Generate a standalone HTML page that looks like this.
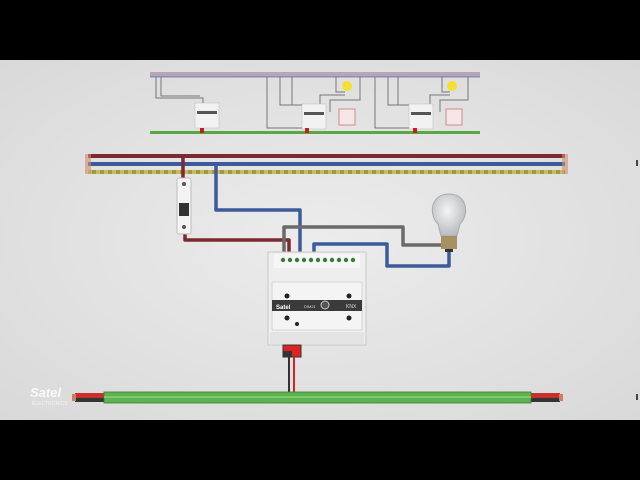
<!DOCTYPE html>
<html><head><style>
html,body{margin:0;padding:0;background:#000;}
svg{display:block}
</style></head><body>
<svg width="640" height="480" viewBox="0 0 640 480" xmlns="http://www.w3.org/2000/svg" font-family="Liberation Sans, sans-serif">
<defs>
<radialGradient id="bg" cx="50%" cy="50%" r="70%">
<stop offset="0" stop-color="#ececec"/><stop offset="1" stop-color="#d9d9d9"/>
</radialGradient>
<radialGradient id="glass" cx="45%" cy="40%" r="60%">
<stop offset="0" stop-color="#f4f4f4"/><stop offset="1" stop-color="#b8bcc0"/>
</radialGradient>
<pattern id="yg" width="8" height="4" patternUnits="userSpaceOnUse">
<rect width="8" height="4" fill="#9a9a48"/><rect width="4" height="4" fill="#c8bc5a"/>
</pattern>
</defs>
<rect x="0" y="0" width="640" height="480" fill="#000"/>
<rect x="0" y="60" width="640" height="360" fill="url(#bg)"/>

<g>
<rect x="150" y="72" width="330" height="4" fill="#b6a6b8"/>
<rect x="150" y="76" width="330" height="1.5" fill="#8a8fb5"/>
<rect x="150" y="131" width="330" height="3" fill="#5aa844"/>
<g stroke="#777" stroke-width="1" fill="none">
<path d="M156 77 V98 H203 V104"/><path d="M161 77 V96 H200"/>
<path d="M267 77 V128 H305"/><path d="M280 77 V105 H310"/><path d="M292 77 V105 H320 V95 H345"/>
<path d="M336 77 V92 H345"/><path d="M360 77 V100 H330 V112"/>
<path d="M375 77 V128 H410"/><path d="M388 77 V105 H415"/><path d="M398 77 V105 H430 V95 H450"/>
<path d="M442 77 V92 H450"/><path d="M468 77 V100 H440 V112"/>
</g>
<rect x="195" y="103" width="24" height="25" fill="#f2f2f2" stroke="#bbb" stroke-width=".5"/>
<rect x="197" y="111" width="20" height="3" fill="#555"/>
<rect x="200" y="128" width="4" height="5" fill="#c02020"/>
<rect x="302" y="104" width="24" height="25" fill="#f2f2f2" stroke="#bbb" stroke-width=".5"/>
<rect x="304" y="112" width="20" height="3" fill="#555"/>
<rect x="305" y="128" width="4" height="5" fill="#c02020"/>
<rect x="409" y="104" width="24" height="25" fill="#f2f2f2" stroke="#bbb" stroke-width=".5"/>
<rect x="411" y="112" width="20" height="3" fill="#555"/>
<rect x="413" y="128" width="4" height="5" fill="#c02020"/>
<circle cx="347" cy="86" r="5" fill="#f5e030"/><circle cx="452" cy="86" r="5" fill="#f5e030"/>
<rect x="339" y="109" width="16" height="16" fill="#f6e6e6" stroke="#d08a8a"/>
<rect x="446" y="109" width="16" height="16" fill="#f6e6e6" stroke="#d08a8a"/>
</g>

<path d="M88 156 H565" stroke="#7a2a30" stroke-width="4"/>
<path d="M88 164 H565" stroke="#3d5a9a" stroke-width="4"/>
<path d="M88 172 H565" stroke="url(#yg)" stroke-width="4"/>
<rect x="85" y="154" width="6" height="20" fill="#d09070" opacity=".6"/>
<rect x="562" y="154" width="6" height="20" fill="#d09070" opacity=".6"/>

<g fill="none" stroke-linejoin="round">
<path d="M183 156 V180" stroke="#7a2a30" stroke-width="3.5"/>
<path d="M185 232 V240 H289 V252" stroke="#7a2a30" stroke-width="3.5"/>
<path d="M216 164 V210 H300 V252" stroke="#3d5a9a" stroke-width="3.5"/>
<path d="M284 252 V227 H403 V245 H445" stroke="#6a6a6a" stroke-width="3.5"/>
<path d="M314 252 V244 H387 V266 H449 V250" stroke="#3d5a9a" stroke-width="3.5"/>
</g>

<rect x="177" y="178" width="14" height="56" rx="2" fill="#f4f4f4" stroke="#bdbdbd"/>
<circle cx="184" cy="184" r="2" fill="#555"/><circle cx="184" cy="227" r="2" fill="#555"/>
<rect x="179" y="203" width="10" height="13" fill="#333"/>

<path d="M438 224 C428 214 431 194 449 194 C467 194 470 214 460 224 L457 236 H441 Z" fill="url(#glass)" stroke="#aaa"/>
<rect x="441" y="236" width="16" height="13" fill="#a89060"/>
<rect x="445" y="249" width="8" height="3" fill="#333"/>

<rect x="268" y="252" width="98" height="93" fill="#eeeeee" stroke="#c8c8c8"/>
<rect x="274" y="254" width="86" height="14" fill="#f6f6f6"/>
<g fill="#3a7a3a">
<circle cx="283" cy="260" r="2.2"/><circle cx="290" cy="260" r="2.2"/><circle cx="297" cy="260" r="2.2"/><circle cx="304" cy="260" r="2.2"/><circle cx="311" cy="260" r="2.2"/><circle cx="318" cy="260" r="2.2"/><circle cx="325" cy="260" r="2.2"/><circle cx="332" cy="260" r="2.2"/><circle cx="339" cy="260" r="2.2"/><circle cx="346" cy="260" r="2.2"/><circle cx="353" cy="260" r="2.2"/>
</g>
<rect x="272" y="282" width="90" height="48" fill="#f4f4f4" stroke="#d4d4d4"/>
<rect x="272" y="300" width="90" height="11" fill="#3a3a3a"/>
<text x="276" y="309" font-size="6" font-weight="bold" fill="#fff">Satel</text>
<text x="304" y="308" font-size="4" fill="#ddd">DIM21</text>
<text x="346" y="308" font-size="5" fill="#ddd">KNX</text>
<circle cx="325" cy="305" r="4" fill="#555" stroke="#ccc"/>
<circle cx="287" cy="296" r="2.5" fill="#222"/><circle cx="349" cy="296" r="2.5" fill="#222"/>
<circle cx="287" cy="318" r="2.5" fill="#222"/><circle cx="349" cy="318" r="2.5" fill="#222"/>
<circle cx="297" cy="324" r="2" fill="#222"/>
<rect x="270" y="332" width="94" height="12" fill="#e4e4e4"/>
<rect x="283" y="345" width="18" height="12" fill="#d22" stroke="#333"/>
<rect x="283" y="351" width="9" height="6" fill="#333"/>
<path d="M289 357 V394" stroke="#333" stroke-width="2"/>
<path d="M294 357 V394" stroke="#d22" stroke-width="2"/>

<rect x="75" y="393" width="30" height="9" fill="#c83030"/>
<rect x="75" y="398" width="30" height="4" fill="#333"/>
<rect x="72" y="394" width="4" height="7" fill="#c88060"/>
<rect x="530" y="393" width="30" height="9" fill="#c83030"/>
<rect x="530" y="398" width="30" height="4" fill="#333"/>
<rect x="559" y="394" width="4" height="7" fill="#c88060"/>
<rect x="104" y="392" width="427" height="11" fill="#5db34e" stroke="#3a7a34" stroke-width=".8"/>
<rect x="104" y="396" width="427" height="2" fill="#8fd080" opacity=".7"/>

<text x="30" y="397" font-size="13" font-weight="bold" font-style="italic" fill="#fff" opacity=".85">Satel</text>
<text x="32" y="405" font-size="5" fill="#fff" opacity=".7">ELECTRONICS</text>
<rect x="636" y="160" width="2" height="6" fill="#444"/>
<rect x="636" y="394" width="2" height="6" fill="#444"/>
</svg>
</body></html>
